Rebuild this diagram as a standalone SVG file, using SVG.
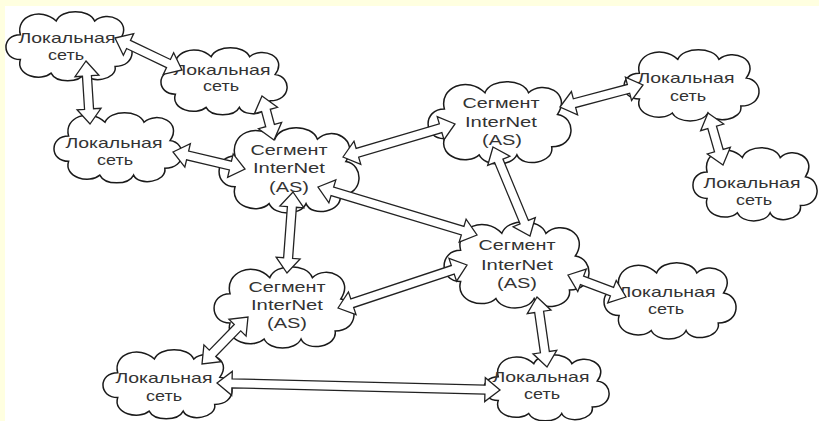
<svg xmlns="http://www.w3.org/2000/svg" width="819" height="421" viewBox="0 0 819 421">
<style>
.t{font-family:"Liberation Sans",Arial,sans-serif;font-size:15px;fill:#333;text-anchor:middle}
.arr{fill:#fff;stroke:#222;stroke-width:1.3;stroke-linejoin:miter}
</style>
<defs>
<path id="cloud" d="M12,42 C-3,42 -3,20 12,20 C8,4 28,-5 40,8 C44,-3 66,-3 70,8 C80,-2 100,8 90,24 C103,26 103,48 86,48 C88,60 66,64 62,54 C58,63 40,63 36,54 C28,62 8,56 12,42 Z" fill="#fff" stroke="#1a1a1a" stroke-width="1.5" vector-effect="non-scaling-stroke"/>
</defs>
<rect width="819" height="421" fill="#FFFFE0"/>
<rect x="5" y="6" width="814" height="415" fill="#fff"/>

<g id="L1"><use href="#cloud" transform="translate(5,12) scale(1.28,1.133)"/>
<text class="t" x="67" y="43" textLength="97" lengthAdjust="spacingAndGlyphs">Локальная</text>
<text class="t" x="66" y="60" textLength="36" lengthAdjust="spacingAndGlyphs">сеть</text></g>
<g id="L2"><use href="#cloud" transform="translate(160,48) scale(1.28,1.1)"/>
<text class="t" x="222" y="75" textLength="97" lengthAdjust="spacingAndGlyphs">Локальная</text>
<text class="t" x="221" y="91" textLength="36" lengthAdjust="spacingAndGlyphs">сеть</text></g>
<g id="L3"><use href="#cloud" transform="translate(53,113) scale(1.3,1.15)"/>
<text class="t" x="114" y="148" textLength="97" lengthAdjust="spacingAndGlyphs">Локальная</text>
<text class="t" x="115" y="165" textLength="36" lengthAdjust="spacingAndGlyphs">сеть</text></g>
<g id="S1"><use href="#cloud" transform="translate(218,128) scale(1.42,1.4)"/>
<text class="t" x="289" y="155" textLength="77" lengthAdjust="spacingAndGlyphs">Сегмент</text>
<text class="t" x="289" y="173" textLength="72" lengthAdjust="spacingAndGlyphs">InterNet</text>
<text class="t" x="289" y="192" textLength="40" lengthAdjust="spacingAndGlyphs">(AS)</text></g>
<g id="S2"><use href="#cloud" transform="translate(427,82) scale(1.45,1.35)"/>
<text class="t" x="501" y="108" textLength="77" lengthAdjust="spacingAndGlyphs">Сегмент</text>
<text class="t" x="501" y="127" textLength="72" lengthAdjust="spacingAndGlyphs">InterNet</text>
<text class="t" x="502" y="145" textLength="40" lengthAdjust="spacingAndGlyphs">(AS)</text></g>
<g id="S3"><use href="#cloud" transform="translate(443,222) scale(1.47,1.417)"/>
<text class="t" x="517" y="250" textLength="77" lengthAdjust="spacingAndGlyphs">Сегмент</text>
<text class="t" x="517" y="270" textLength="72" lengthAdjust="spacingAndGlyphs">InterNet</text>
<text class="t" x="517" y="288" textLength="40" lengthAdjust="spacingAndGlyphs">(AS)</text></g>
<g id="S4"><use href="#cloud" transform="translate(213,267) scale(1.42,1.333)"/>
<text class="t" x="287" y="292" textLength="77" lengthAdjust="spacingAndGlyphs">Сегмент</text>
<text class="t" x="287" y="310" textLength="72" lengthAdjust="spacingAndGlyphs">InterNet</text>
<text class="t" x="287" y="328" textLength="40" lengthAdjust="spacingAndGlyphs">(AS)</text></g>
<g id="L4"><use href="#cloud" transform="translate(623,50) scale(1.37,1.167)"/>
<text class="t" x="686" y="83" textLength="97" lengthAdjust="spacingAndGlyphs">Локальная</text>
<text class="t" x="688" y="101" textLength="36" lengthAdjust="spacingAndGlyphs">сеть</text></g>
<g id="L5"><use href="#cloud" transform="translate(692,148) scale(1.26,1.2)"/>
<text class="t" x="752" y="188" textLength="97" lengthAdjust="spacingAndGlyphs">Локальная</text>
<text class="t" x="754" y="205" textLength="36" lengthAdjust="spacingAndGlyphs">сеть</text></g>
<g id="L6"><use href="#cloud" transform="translate(603,263) scale(1.34,1.25)"/>
<text class="t" x="667" y="297" textLength="97" lengthAdjust="spacingAndGlyphs">Локальная</text>
<text class="t" x="666" y="314" textLength="36" lengthAdjust="spacingAndGlyphs">сеть</text></g>
<g id="L7"><use href="#cloud" transform="translate(102,350) scale(1.31,1.133)"/>
<text class="t" x="164" y="383" textLength="97" lengthAdjust="spacingAndGlyphs">Локальная</text>
<text class="t" x="164" y="401" textLength="36" lengthAdjust="spacingAndGlyphs">сеть</text></g>
<g id="L8"><use href="#cloud" transform="translate(483,355) scale(1.27,1.083)"/>
<text class="t" x="541" y="382" textLength="97" lengthAdjust="spacingAndGlyphs">Локальная</text>
<text class="t" x="542" y="399" textLength="36" lengthAdjust="spacingAndGlyphs">сеть</text></g>

<g id="connectors">
<polygon class="arr" transform="translate(115,38) rotate(25.53)" points="0,0 15,-12 15,-4.5 59.25,-4.5 59.25,-12 74.25,0 59.25,12 59.25,4.5 15,4.5 15,12"/>
<polygon class="arr" transform="translate(86,61) rotate(86.37)" points="0,0 15,-12 15,-4.5 48.13,-4.5 48.13,-12 63.13,0 48.13,12 48.13,4.5 15,4.5 15,12"/>
<polygon class="arr" transform="translate(262,96) rotate(74.74)" points="0,0 15,-12 15,-4.5 30.61,-4.5 30.61,-12 45.61,0 30.61,12 30.61,4.5 15,4.5 15,12"/>
<polygon class="arr" transform="translate(173,152) rotate(13.28)" points="0,0 15,-12 15,-4.5 58.98,-4.5 58.98,-12 73.98,0 58.98,12 58.98,4.5 15,4.5 15,12"/>
<polygon class="arr" transform="translate(343,157) rotate(-16.42)" points="0,0 15,-12 15,-4.5 101.76,-4.5 101.76,-12 116.76,0 101.76,12 101.76,4.5 15,4.5 15,12"/>
<polygon class="arr" transform="translate(560,107) rotate(-14.85)" points="0,0 15,-12 15,-4.5 70.87,-4.5 70.87,-12 85.87,0 70.87,12 70.87,4.5 15,4.5 15,12"/>
<polygon class="arr" transform="translate(708,113) rotate(73.91)" points="0,0 15,-12 15,-4.5 39.12,-4.5 39.12,-12 54.12,0 39.12,12 39.12,4.5 15,4.5 15,12"/>
<polygon class="arr" transform="translate(493,147) rotate(67.43)" points="0,0 15,-12 15,-4.5 81.38,-4.5 81.38,-12 96.38,0 81.38,12 81.38,4.5 15,4.5 15,12"/>
<polygon class="arr" transform="translate(318,187) rotate(16.8)" points="0,0 15,-12 15,-4.5 151.09,-4.5 151.09,-12 166.09,0 151.09,12 151.09,4.5 15,4.5 15,12"/>
<polygon class="arr" transform="translate(293,192) rotate(94.24)" points="0,0 15,-12 15,-4.5 66.22,-4.5 66.22,-12 81.22,0 66.22,12 66.22,4.5 15,4.5 15,12"/>
<polygon class="arr" transform="translate(338,308) rotate(-18.43)" points="0,0 15,-12 15,-4.5 120.98,-4.5 120.98,-12 135.98,0 120.98,12 120.98,4.5 15,4.5 15,12"/>
<polygon class="arr" transform="translate(568,275) rotate(20.77)" points="0,0 15,-12 15,-4.5 47.03,-4.5 47.03,-12 62.03,0 47.03,12 47.03,4.5 15,4.5 15,12"/>
<polygon class="arr" transform="translate(248,317) rotate(134.38)" points="0,0 15,-12 15,-4.5 50.76,-4.5 50.76,-12 65.76,0 50.76,12 50.76,4.5 15,4.5 15,12"/>
<polygon class="arr" transform="translate(217,383) rotate(1.42)" points="0,0 15,-12 15,-4.5 268.09,-4.5 268.09,-12 283.09,0 268.09,12 268.09,4.5 15,4.5 15,12"/>
<polygon class="arr" transform="translate(537,297) rotate(81.87)" points="0,0 15,-12 15,-4.5 55.71,-4.5 55.71,-12 70.71,0 55.71,12 55.71,4.5 15,4.5 15,12"/>
</g>
</svg>
